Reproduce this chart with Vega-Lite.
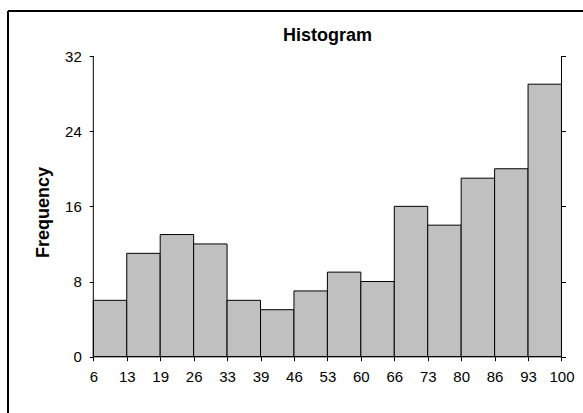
{
  "$schema": "https://vega.github.io/schema/vega-lite/v6.json",
  "width": 575,
  "height": 402,
  "autosize": {"type": "none"},
  "padding": {"left": 8, "top": 11, "right": 0, "bottom": 0},
  "background": "white",
  "config": {
    "view": {"stroke": null},
    "font": "Liberation Sans",
    "axis": {"grid": false, "domain": false, "tickColor": "black", "tickSize": 4, "tickWidth": 1, "labelFont": "Liberation Sans", "labelFontSize": 15, "labelColor": "black", "titleFont": "Liberation Sans", "titleColor": "black"}
  },
  "title": {"text": "Histogram", "font": "Liberation Sans", "fontSize": 18, "fontWeight": "bold", "color": "black", "frame": "group", "anchor": "middle", "baseline": "alphabetic", "offset": -29.7, "dx": 32, "dy": 19},
  "data": {"values": [
    {"bin": 0, "next": 1, "count": 6},
    {"bin": 1, "next": 2, "count": 11},
    {"bin": 2, "next": 3, "count": 13},
    {"bin": 3, "next": 4, "count": 12},
    {"bin": 4, "next": 5, "count": 6},
    {"bin": 5, "next": 6, "count": 5},
    {"bin": 6, "next": 7, "count": 7},
    {"bin": 7, "next": 8, "count": 9},
    {"bin": 8, "next": 9, "count": 8},
    {"bin": 9, "next": 10, "count": 16},
    {"bin": 10, "next": 11, "count": 14},
    {"bin": 11, "next": 12, "count": 19},
    {"bin": 12, "next": 13, "count": 20},
    {"bin": 13, "next": 14, "count": 29}
  ]},
  "resolve": {"scale": {"y": "independent"}},
  "layer": [
    {
      "mark": {"type": "rect", "fill": "#C0C0C0", "stroke": "black", "strokeWidth": 1},
      "encoding": {
        "x": {"field": "bin", "type": "quantitative", "scale": {"domain": [-2.551, 14.643], "nice": false, "zero": false},
          "axis": {"orient": "bottom", "values": [0,1,2,3,4,5,6,7,8,9,10,11,12,13,14], "labelExpr": "['6','13','19','26','33','39','46','53','60','66','73','80','86','93','100'][datum.value]", "labelPadding": 9, "offset": -56.3, "title": null, "labelFlush": false, "labelOverlap": false}},
        "x2": {"field": "next"},
        "y": {"field": "count", "type": "quantitative", "scale": {"domain": [-5.991, 36.789], "nice": false, "zero": false},
          "axis": {"orient": "left", "values": [0, 8, 16, 24, 32], "labelPadding": 8, "offset": -85.3, "title": "Frequency", "titleFontSize": 18, "titleFontWeight": "bold", "titlePadding": 12}},
        "y2": {"datum": 0}
      }
    },
    {
      "data": {"values": [{}]},
      "mark": {"type": "rule", "color": "black", "strokeWidth": 1},
      "encoding": {
        "x": {"datum": 0, "type": "quantitative", "scale": {"domain": [-2.551, 14.643], "nice": false, "zero": false}},
        "y": {"datum": 0, "type": "quantitative", "scale": {"domain": [-5.991, 36.789], "nice": false, "zero": false}, "axis": null},
        "y2": {"datum": 32}
      }
    },
    {
      "data": {"values": [{}]},
      "mark": {"type": "rule", "color": "black", "strokeWidth": 1},
      "encoding": {
        "x": {"datum": 0, "type": "quantitative", "scale": {"domain": [-2.551, 14.643], "nice": false, "zero": false}},
        "x2": {"datum": 14},
        "y": {"datum": 0, "type": "quantitative", "scale": {"domain": [-5.991, 36.789], "nice": false, "zero": false}, "axis": null}
      }
    },
    {
      "data": {"values": [{}]},
      "mark": {"type": "rule", "color": "black", "strokeWidth": 1},
      "encoding": {
        "x": {"datum": 14, "type": "quantitative", "scale": {"domain": [-2.551, 14.643], "nice": false, "zero": false}},
        "y": {"datum": 0, "type": "quantitative", "scale": {"domain": [-5.991, 36.789], "nice": false, "zero": false},
          "axis": {"orient": "right", "values": [0, 8, 16, 24, 32], "labels": false, "offset": -21.5, "title": null}},
        "y2": {"datum": 32}
      }
    },
    {
      "data": {"values": [{}]},
      "mark": {"type": "rule", "color": "black", "strokeWidth": 2},
      "encoding": {
        "x": {"datum": -2.551, "type": "quantitative", "scale": {"domain": [-2.551, 14.643], "nice": false, "zero": false}},
        "y": {"datum": -5.991, "type": "quantitative", "scale": {"domain": [-5.991, 36.789], "nice": false, "zero": false}, "axis": null},
        "y2": {"datum": 36.789}
      }
    },
    {
      "data": {"values": [{}]},
      "mark": {"type": "rule", "color": "black", "strokeWidth": 2},
      "encoding": {
        "x": {"datum": -2.551, "type": "quantitative", "scale": {"domain": [-2.551, 14.643], "nice": false, "zero": false}},
        "x2": {"datum": 14.643},
        "y": {"datum": 36.789, "type": "quantitative", "scale": {"domain": [-5.991, 36.789], "nice": false, "zero": false}, "axis": null}
      }
    }
  ]
}
